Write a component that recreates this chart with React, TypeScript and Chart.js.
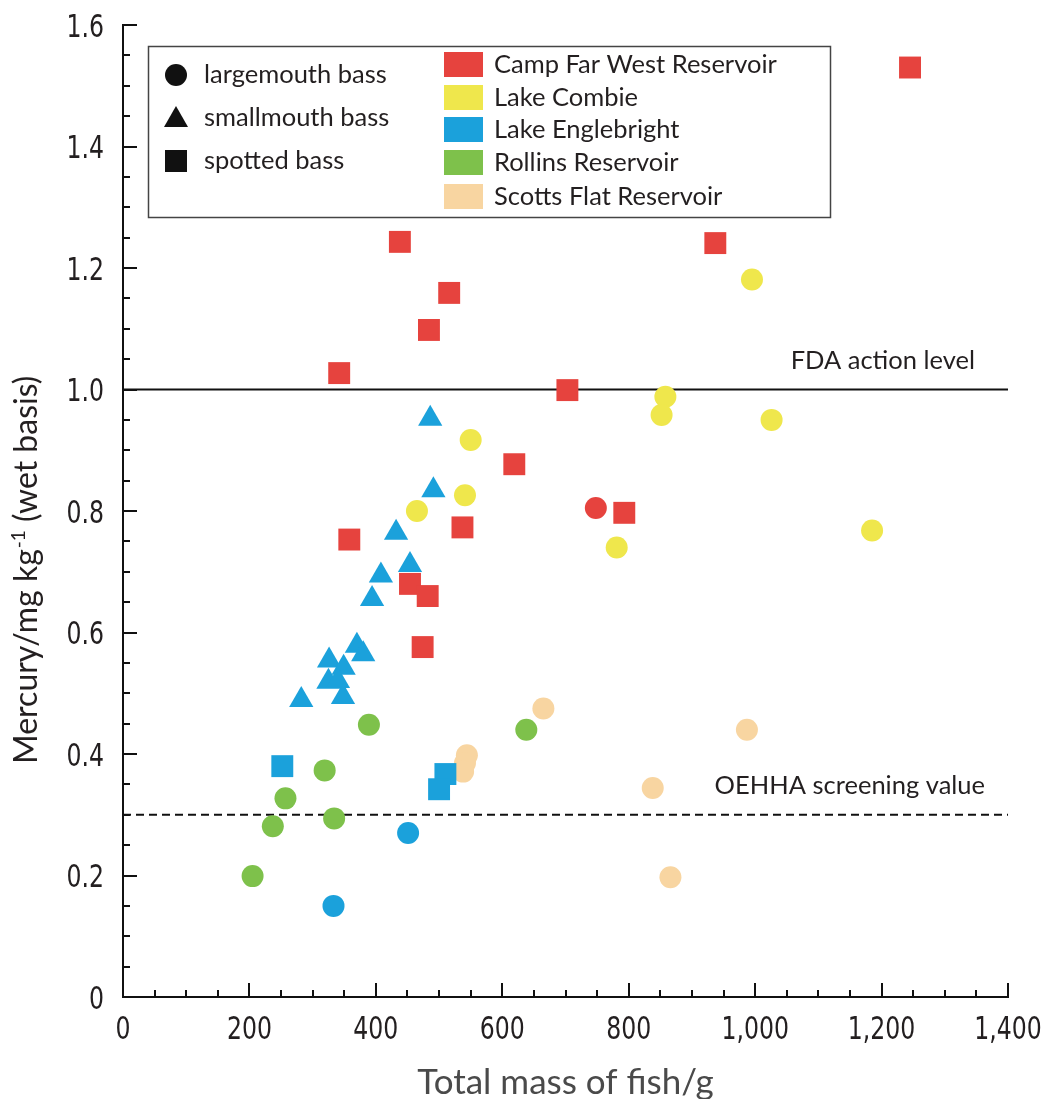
import React, { useEffect, useRef } from "react";
import { Chart, registerables } from "chart.js";

Chart.register(...registerables);

// ---- tick values ----
const xTickValues = [0, 200, 400, 600, 800, 1000, 1200, 1400];
const yTickValues = [0, 0.2, 0.4, 0.6, 0.8, 1.0, 1.2, 1.4, 1.6];

// ---- reference levels ----
const fdaActionLevel = 1.0;
const oehhaScreeningValue = 0.3;
const fdaLabel = "FDA action level";
const oehhaLabel = "OEHHA screening value";

// ---- legend content ----
const speciesNames = ["largemouth bass", "smallmouth bass", "spotted bass"];
const speciesStyles = ["circle", "triangle", "rect"];
const lakeNames = [
  "Camp Far West Reservoir",
  "Lake Combie",
  "Lake Englebright",
  "Rollins Reservoir",
  "Scotts Flat Reservoir",
];
const lakeColors = ["#E6433E", "#EFE74C", "#1BA1DB", "#7EC14B", "#F8D5A1"];

// ---- data: total mass of fish (g) and mercury (mg/kg) ----
const campFarWestSpottedMass = [1245, 438, 516, 484, 937, 342, 703, 619, 358, 537, 793, 454, 482, 474];
const campFarWestSpottedHg = [1.53, 1.243, 1.159, 1.098, 1.241, 1.027, 0.999, 0.877, 0.753, 0.773, 0.797, 0.68, 0.66, 0.576];

const campFarWestLargemouthMass = [748];
const campFarWestLargemouthHg = [0.805];

const lakeCombieLargemouthMass = [995, 858, 852, 1026, 550, 541, 465, 781, 1185];
const lakeCombieLargemouthHg = [1.181, 0.988, 0.958, 0.95, 0.917, 0.826, 0.8, 0.74, 0.768];

const englebrightSmallmouthMass = [486, 491, 432, 454, 408, 394, 370, 380, 326, 349, 325, 340, 348, 282];
const englebrightSmallmouthHg = [0.952, 0.834, 0.764, 0.711, 0.694, 0.655, 0.578, 0.564, 0.554, 0.542, 0.519, 0.52, 0.494, 0.489];

const englebrightSpottedMass = [252, 510, 500];
const englebrightSpottedHg = [0.38, 0.367, 0.342];

const englebrightLargemouthMass = [451, 333];
const englebrightLargemouthHg = [0.27, 0.15];

const rollinsLargemouthMass = [389, 319, 257, 334, 237, 205, 638];
const rollinsLargemouthHg = [0.448, 0.373, 0.327, 0.294, 0.281, 0.199, 0.44];

const scottsFlatLargemouthMass = [665, 544, 541, 538, 987, 838, 866];
const scottsFlatLargemouthHg = [0.475, 0.398, 0.385, 0.371, 0.44, 0.344, 0.197];

const xTitle = "Total mass of fish/g";
const yTitleMain = "Mercury/mg kg";
const yTitleSup = "-1";
const yTitleRest = " (wet basis)";

const TEXT_FONT = "Lato, 'Open Sans', sans-serif";
const TICK_FONT = "'Liberation Sans Narrow', 'DejaVu Sans Condensed', 'Roboto Condensed', sans-serif";
const INK = "#231f20";

const pts = (xs: number[], ys: number[]) => xs.map((x, i) => ({ x, y: ys[i] }));

const markerRadius: Record<string, number> = { circle: 11, triangle: 14, rect: 15.5 };

const formatX = (v: number) => v.toLocaleString("en-US");
const formatY = (v: number) => (v === 0 ? "0" : v.toFixed(1));

function scatterSet(label: string, xs: number[], ys: number[], color: string, style: string) {
  return {
    type: "scatter" as const,
    label,
    data: pts(xs, ys),
    backgroundColor: color,
    borderColor: color,
    borderWidth: 0,
    pointStyle: style,
    pointRadius: markerRadius[style],
    pointHoverRadius: markerRadius[style],
    clip: false,
  };
}

function refLine(level: number, dash: number[]) {
  return {
    type: "line" as const,
    label: "ref",
    data: [
      { x: xTickValues[0], y: level },
      { x: xTickValues[xTickValues.length - 1], y: level },
    ],
    borderColor: "#111",
    borderWidth: 2,
    borderDash: dash,
    pointRadius: 0,
    showLine: true,
    fill: false,
  };
}

const decorPlugin = {
  id: "decor",
  afterDatasetsDraw(chart: any) {
    const ctx = chart.ctx as CanvasRenderingContext2D;
    const xs = chart.scales.x;
    const ys = chart.scales.y;
    const area = chart.chartArea;
    ctx.save();

    // inward tick marks
    ctx.strokeStyle = "#111";
    ctx.lineWidth = 2;
    const xMax = xTickValues[xTickValues.length - 1];
    for (let v = 0; v <= xMax; v += 50) {
      const px = Math.round(xs.getPixelForValue(v));
      const len = v % 200 === 0 ? 14 : 7;
      ctx.beginPath();
      ctx.moveTo(px, area.bottom);
      ctx.lineTo(px, area.bottom - len);
      ctx.stroke();
    }
    const yMax = yTickValues[yTickValues.length - 1];
    for (let i = 0; i <= Math.round(yMax / 0.05); i++) {
      const v = i * 0.05;
      const py = Math.round(ys.getPixelForValue(v));
      const len = i % 4 === 0 ? 14 : 7;
      ctx.beginPath();
      ctx.moveTo(area.left, py);
      ctx.lineTo(area.left + len, py);
      ctx.stroke();
    }

    // tick labels in a condensed style (digits about 15px wide, 23px tall)
    ctx.font = `32px ${TICK_FONT}`;
    const digitW = ctx.measureText("0").width;
    const sx = Math.min(1, 15 / digitW);
    ctx.fillStyle = INK;
    ctx.textBaseline = "alphabetic";
    ctx.textAlign = "center";
    xTickValues.forEach((v) => {
      ctx.save();
      ctx.translate(xs.getPixelForValue(v), area.bottom + 42);
      ctx.scale(sx, 1);
      ctx.fillText(formatX(v), 0, 0);
      ctx.restore();
    });
    ctx.textAlign = "right";
    yTickValues.forEach((v) => {
      ctx.save();
      ctx.translate(area.left - 19, ys.getPixelForValue(v) + 11.5);
      ctx.scale(sx, 1);
      ctx.fillText(formatY(v), 0, 0);
      ctx.restore();
    });

    // reference labels
    ctx.fillStyle = INK;
    ctx.font = `25.5px ${TEXT_FONT}`;
    ctx.textAlign = "right";
    ctx.textBaseline = "middle";
    ctx.fillText(fdaLabel, 975, ys.getPixelForValue(fdaActionLevel) - 29);
    ctx.fillText(oehhaLabel, 985, ys.getPixelForValue(oehhaScreeningValue) - 29);

    // legend box
    const bx = 148.5, by = 46.5, bw = 682, bh = 171;
    ctx.fillStyle = "#fff";
    ctx.fillRect(bx, by, bw, bh);
    ctx.strokeStyle = "#444";
    ctx.lineWidth = 1.5;
    ctx.strokeRect(bx, by, bw, bh);

    // species markers (black)
    const rowY = [75, 118, 161];
    speciesStyles.forEach((style, i) => {
      ctx.fillStyle = "#111";
      ctx.beginPath();
      const cx = 176, cy = rowY[i];
      if (style === "circle") {
        ctx.arc(cx, cy, 11, 0, Math.PI * 2);
      } else if (style === "triangle") {
        ctx.moveTo(cx, cy - 12);
        ctx.lineTo(cx + 12, cy + 9);
        ctx.lineTo(cx - 12, cy + 9);
        ctx.closePath();
      } else {
        ctx.rect(cx - 11, cy - 11, 22, 22);
      }
      ctx.fill();
      ctx.fillStyle = INK;
      ctx.font = `25.5px ${TEXT_FONT}`;
      ctx.textAlign = "left";
      ctx.textBaseline = "middle";
      ctx.fillText(speciesNames[i], 204, cy);
    });

    // lake swatches
    const swTop = [52, 85, 117, 150, 184];
    lakeNames.forEach((name, i) => {
      ctx.fillStyle = lakeColors[i];
      ctx.fillRect(444, swTop[i], 39, 25);
      ctx.fillStyle = INK;
      ctx.font = `25.5px ${TEXT_FONT}`;
      ctx.textAlign = "left";
      ctx.textBaseline = "middle";
      ctx.fillText(name, 494, swTop[i] + 13);
    });

    // y title with superscript (reads bottom to top, starting near y = 763)
    ctx.translate(37, 764);
    ctx.rotate(-Math.PI / 2);
    const mainFont = `32px ${TEXT_FONT}`;
    const supFont = `19px ${TEXT_FONT}`;
    ctx.fillStyle = INK;
    ctx.textAlign = "left";
    ctx.textBaseline = "alphabetic";
    ctx.font = mainFont;
    const w1 = ctx.measureText(yTitleMain).width;
    ctx.fillText(yTitleMain, 0, 0);
    ctx.font = supFont;
    const w2 = ctx.measureText(yTitleSup).width + 1;
    ctx.fillText(yTitleSup, w1 + 1, -12);
    ctx.font = mainFont;
    ctx.fillText(yTitleRest, w1 + w2, 0);

    ctx.restore();
  },
};

export default function App() {
  const canvasRef = useRef<HTMLCanvasElement | null>(null);

  useEffect(() => {
    if (!canvasRef.current) return;
    const datasets: any[] = [
      scatterSet("Lake Englebright – smallmouth bass", englebrightSmallmouthMass, englebrightSmallmouthHg, lakeColors[2], "triangle"),
      scatterSet("Lake Englebright – spotted bass", englebrightSpottedMass, englebrightSpottedHg, lakeColors[2], "rect"),
      scatterSet("Lake Englebright – largemouth bass", englebrightLargemouthMass, englebrightLargemouthHg, lakeColors[2], "circle"),
      scatterSet("Camp Far West Reservoir – spotted bass", campFarWestSpottedMass, campFarWestSpottedHg, lakeColors[0], "rect"),
      scatterSet("Camp Far West Reservoir – largemouth bass", campFarWestLargemouthMass, campFarWestLargemouthHg, lakeColors[0], "circle"),
      scatterSet("Lake Combie – largemouth bass", lakeCombieLargemouthMass, lakeCombieLargemouthHg, lakeColors[1], "circle"),
      scatterSet("Rollins Reservoir – largemouth bass", rollinsLargemouthMass, rollinsLargemouthHg, lakeColors[3], "circle"),
      scatterSet("Scotts Flat Reservoir – largemouth bass", scottsFlatLargemouthMass, scottsFlatLargemouthHg, lakeColors[4], "circle"),
      refLine(fdaActionLevel, []),
      refLine(oehhaScreeningValue, [8, 5]),
    ];

    const zeroPad = (s: any) => {
      s.paddingTop = 0;
      s.paddingBottom = 0;
      s.paddingLeft = 0;
      s.paddingRight = 0;
    };

    const chart = new Chart(canvasRef.current, {
      type: "scatter",
      data: { datasets },
      options: {
        animation: false,
        responsive: true,
        maintainAspectRatio: false,
        layout: { padding: { top: 25, right: 38, left: 0, bottom: 0 }, autoPadding: false },
        plugins: { legend: { display: false }, tooltip: { enabled: false } },
        scales: {
          x: {
            type: "linear",
            min: xTickValues[0],
            max: xTickValues[xTickValues.length - 1],
            afterBuildTicks: (s: any) => {
              s.ticks = xTickValues.map((v) => ({ value: v }));
            },
            afterFit: (s: any) => {
              s.height = 102;
              zeroPad(s);
            },
            grid: { display: false, drawTicks: false },
            border: { display: true, color: "#111", width: 2 },
            ticks: { display: false },
            title: {
              display: true,
              text: xTitle,
              color: "#4a4a4a",
              font: { family: TEXT_FONT, size: 35 },
              padding: { top: 0, bottom: -5 },
            },
          },
          y: {
            type: "linear",
            min: yTickValues[0],
            max: yTickValues[yTickValues.length - 1],
            afterBuildTicks: (s: any) => {
              s.ticks = yTickValues.map((v) => ({ value: v }));
            },
            afterFit: (s: any) => {
              s.width = 123;
              zeroPad(s);
            },
            grid: { display: false, drawTicks: false },
            border: { display: true, color: "#111", width: 2 },
            ticks: { display: false },
          },
        },
      },
      plugins: [decorPlugin],
    } as any);

    return () => chart.destroy();
  }, []);

  return (
    <div style={{ position: "fixed", left: 0, top: 0, width: 1046, height: 1099, background: "#fff" }}>
      <canvas ref={canvasRef} />
    </div>
  );
}
